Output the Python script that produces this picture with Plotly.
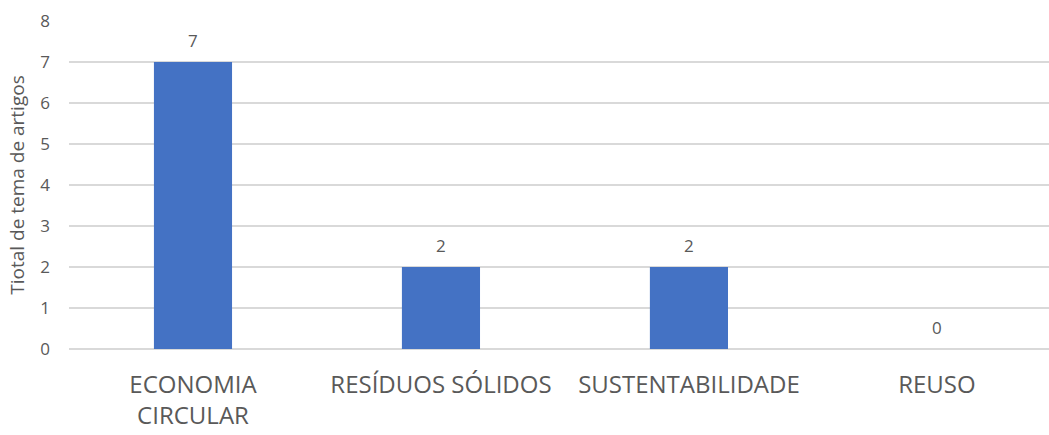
import plotly.graph_objects as go

categories = ["ECONOMIA<br>CIRCULAR", "RESÍDUOS SÓLIDOS", "SUSTENTABILIDADE", "REUSO"]
values = [7, 2, 2, 0]
y_ticks = [0, 1, 2, 3, 4, 5, 6, 7, 8]
y_title = "Tiotal de tema de artigos"

gray = "#595959"
font_family = "Open Sans"

fig = go.Figure()
fig.add_trace(go.Bar(x=categories, y=values, marker=dict(color="#4472C4", line=dict(width=0)),
                     hoverinfo="x+y"))

for c, v in zip(categories, values):
    fig.add_annotation(x=c, y=v, text=str(v), showarrow=False, yshift=22,
                       font=dict(family=font_family, size=17, color=gray))

fig.update_layout(
    width=1049, height=435,
    margin=dict(l=69, r=0, t=21, b=86),
    paper_bgcolor="white", plot_bgcolor="white",
    bargap=0.685,
    showlegend=False,
    font=dict(family=font_family, color=gray),
)
fig.update_xaxes(
    range=[-0.5, 3.452], showgrid=False, showline=False, zeroline=False,
    tickfont=dict(size=24, color=gray, family=font_family), ticks="",
    ticklabelstandoff=19,
)
fig.update_yaxes(
    range=[0, 8], tickvals=y_ticks, showgrid=True, gridcolor="#d9d9d9", gridwidth=1.5,
    zeroline=True, zerolinecolor="#d9d9d9", zerolinewidth=1.5, showline=False,
    tickfont=dict(size=17, color=gray, family=font_family), ticks="",
    ticklabelstandoff=18,
    title=dict(text=y_title, font=dict(size=19, color=gray, family=font_family), standoff=10),
)

fig.write_html("out.html")
